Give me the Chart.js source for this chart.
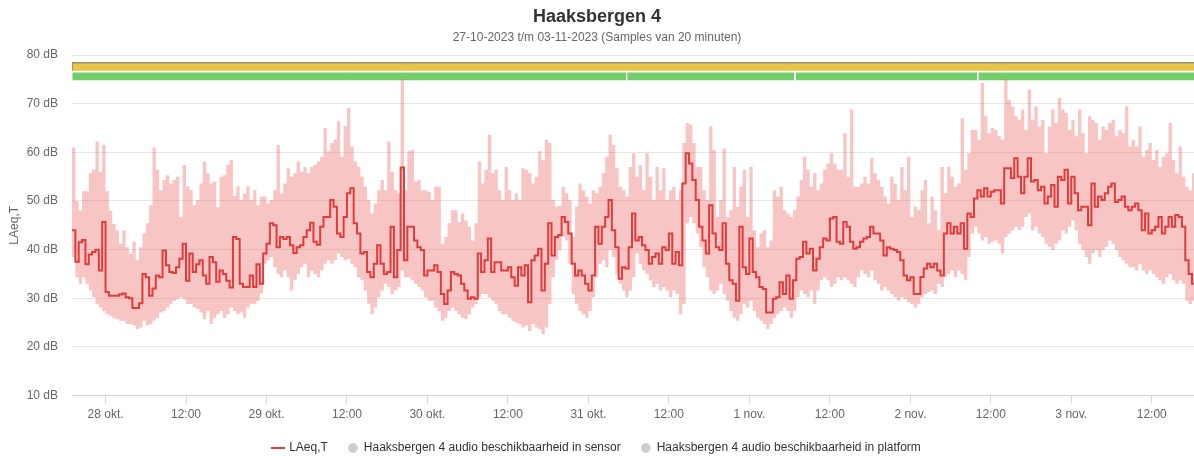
<!DOCTYPE html>
<html><head><meta charset="utf-8">
<script src="https://cdn.jsdelivr.net/npm/chart.js@4.4.0/dist/chart.umd.min.js"></script>
<style>html,body{margin:0;padding:0;background:#fff;}#wrap{width:1194px;height:456px;}</style>
</head><body><div id="wrap"><canvas id="c" width="1194" height="456"></canvas></div>
<script>
// Time axis in hours counted from 27-10-2023 00:00; samples every half hour starting 27 okt 19:00
const startHour = 19;
const stepHours = 0.5;
const axisMinHour = 19;
const axisMaxHour = 186.3;

const laeq = [
44,37.5,41.5,42,37,39,39.5,40,35.7,45.7,31.3,30.5,30.5,30.5,30.8,31,30.2,30,28,28,
29,35,34.3,30.5,32,34.7,34.3,39.8,36.8,35.4,35.2,36.4,38.1,41.2,33.6,39.2,35.4,37,37.8,34.7,
33,38.5,37.4,33.4,35.7,35,33.6,32.2,42.6,42.2,33,32.3,32.3,34.7,32.3,37,33,39.2,41.2,45.4,
45,40.5,42.6,42.2,42.6,40.9,39.3,40.5,40.9,42.6,44,45.5,41.6,41,44.7,46.7,46.7,50.2,48.8,43.3,
42.6,46.7,51.6,52.6,
45.4,43.3,39.2,39.5,35.4,34.3,37.1,40.9,37.1,35,35.4,44.7,34.3,39.9,56.9,37.8,44.7,44.7,41.9,40.5,
39.9,34.7,35.7,35.7,36.8,35.4,30.9,28.8,31.6,35.4,35,34.7,33,31.6,29.9,30.2,29.9,39.2,35.4,37.8,
42.3,35.4,37.4,37.4,35.7,35.7,36.4,34.3,32.6,36.4,34.7,36.8,29.2,37.8,38.8,40.2,31.6,37.1,45.4,38.8,
42.6,43,46.7,45.7,43.3,37.1,34.7,35.7,34.7,33,31.6,34.7,44.7,41.2,44.7,46.7,50.2,44,40.5,34,
36.4,36.1,40.5,47.4,
41.9,42.6,40.9,39.9,37.1,38.5,39.2,37.1,40.5,39.9,43.3,37.1,39.5,36.8,53.6,59.8,57.7,54.3,50.2,44.7,
41.9,39.2,49.1,43.3,40.5,39.9,45.4,37.1,33.7,33,29.5,44.7,36.4,35,42.3,35.4,34.3,32.3,31.9,27.1,
27.1,29.9,30.2,33.3,30.9,34.7,29.9,33.7,38.1,38.5,41.6,39.2,40.2,35.7,38.1,40.5,42.3,41.9,46.4,46.7,
41.6,41.2,45.7,44.7,41.6,40.2,40.5,41.6,42.3,42.6,44.7,43.3,43.3,41.9,38.8,40.5,40.2,39.9,39.5,37.8,
34.7,33.7,34.3,30.9,
30.9,34.4,36.1,37.1,36.4,37.1,35.7,34.7,43.3,45.4,43.3,44.7,43.3,45.4,40.2,47.4,46.7,50.5,52.2,50.9,
52.6,50.9,51.9,52.2,52.2,49.5,56.7,56.7,54.7,58.8,55,51.6,55,58.8,54,54.3,52.2,52.9,49.5,50.9,
53.3,48.8,55,54.3,56.4,49.5,55,51.6,48.1,48.8,48.8,45,53.6,48.8,50.9,50.2,51.6,52.9,53.6,49.8,
50.2,50.9,48.8,48.1,48.8,49.5,48.1,44,47.4,43.3,44,44.7,46.7,43.3,44.7,46.7,44.7,47.1,46.7,44.7,
37.8,35,33,32.6
];

const laeqMax = [
61,50,48,52,52,55.7,56.4,62.2,56,61.5,52,48,45.3,44,41.2,44,40.5,39.2,41.6,37.8,
40.5,43.3,45.4,49.1,61,56.4,52.2,54.3,55.3,53.6,54.3,55,46.7,57.4,53,52.2,49.1,50.2,53.6,58.1,
55.7,53.6,54,48.7,55,55.3,57.4,58.4,51,53,50.2,51.5,53,50.2,52.2,49.1,50.9,50.9,49.5,50.2,
52.2,61.5,51.5,53.6,56.7,55,55.7,58.1,56,57,55.7,57,57.4,58.1,59.1,65,60.2,61.9,62.6,66.4,
59.1,65.4,69.1,61.2,
58.1,57,55,52.9,50.2,47.4,49.5,52.2,54.3,52.2,62.2,56,52.2,51.6,75,52.2,60.2,60.5,54,54.3,
52.2,52.2,51.9,50.2,52.9,52.9,41.2,42.6,45.4,48.1,48.1,45.7,47.4,46,44.7,41.9,45.4,58.1,53.6,56.4,
63.6,55.7,56.4,52.2,50.2,57,52.2,50.2,51.6,50.2,56.7,56.4,55.7,53.6,55,60.2,58.4,62.6,61.9,50.2,
48.8,49,52.9,51.6,50.2,42.6,48.8,53.6,52.2,50.9,49.5,52.2,51.6,52.9,55.7,59.1,63.6,61.5,56.7,52.9,
52.2,50.9,57,59.8,
55,57.4,52.2,59.8,55,50.2,57,52.2,56.7,50.2,52.2,52.9,50.2,52.2,61.9,66,65.7,61.9,57,57,
52.2,50.2,65.3,60.5,46.7,50.2,60.8,46.7,48.1,57,48.8,52.9,56.4,46.7,57,44,40.5,43.3,44,40.5,
41.9,52.2,50.9,52.9,48.1,47.4,46.7,48.1,50.9,54.3,59.1,56.4,52.9,55.7,52.2,53.6,56.4,57.7,59.8,57.7,
56.4,56.4,63.9,55,68.8,52.9,52.9,53.6,55,53.6,58.8,55.7,54.3,52.9,50.9,49.5,55,53.6,50.2,57,
52.2,59.1,46.7,48.8,
48.1,52.2,54.3,45.4,50.9,48.1,44,57,51.6,57,55,52.9,53.6,67,56.4,59.8,64.6,64.6,62.6,74.3,
67.4,63.9,65,64.6,63.3,62.6,75,70.8,69.4,67.4,66.7,68.8,64.6,72.9,66.7,69.4,65.3,66.7,59.8,65.3,
68.8,66,71.2,68.8,68.1,64.6,66.7,63.3,68.8,63.9,59.8,67.4,66.7,66,62.6,65.3,64.6,66,66.7,63.3,
64.6,63.9,69.4,61.2,62.6,61.2,65.3,59.1,60.5,61.9,58.4,60.5,57,59.1,59.8,66,58.4,55.7,61.2,55,
52.9,52.2,55.7,57.7
];

const laeqMin = [
38.5,34.3,33,34.3,33,31.6,30.2,28.8,28.1,27.4,26.7,26.4,26,25.7,25.4,25.4,24.7,24.7,24.4,23.7,
24,25.4,24.4,24.7,25.4,26,27.1,27.4,28.1,28.8,29.5,29.8,30.2,29.8,28.8,28.8,28.1,27.8,27.1,25.7,
27.4,24.7,26,26.7,27.4,26,26.7,28.1,27.4,26.7,27.1,26,28.1,28.8,28.8,29.5,31,37.1,37.8,38.5,
36.4,35,34.3,35.7,34.3,31.6,33.7,35,36.4,37.1,34.3,35.7,35,34.3,35.7,37.1,37.8,37.1,37.8,39.2,
38.5,37.8,38.1,37.1,
36.4,34.3,33.7,31.6,28.8,26.7,28.1,30.2,31.6,33,32.3,30.9,31.6,32.3,35.7,34.3,34.3,33.7,33,32.3,
31.6,30.2,29.5,29.5,28.1,27.4,25.4,26,27.4,28.1,27.4,26.7,26,25.7,26.7,28.1,28.8,30.2,30.9,30.9,
30.2,29.5,28.8,27.4,26.7,26.7,26,25.4,25,24.7,24,24.4,23.3,24.7,24,23.7,22.6,24,28.8,34.3,
37.8,39.9,42.6,41.9,37.1,30.9,28.8,27.4,26.7,26,27.4,30.2,34.3,37.1,37.8,36.4,39.9,38.5,35,33,
31.6,30.2,31.6,34.3,
39.2,37.1,35.7,35,33.7,32.3,33,31.6,32.3,31.6,30.2,31.6,30.9,26.7,28.8,45.4,46.7,45.4,43.3,40.5,
36.4,34.3,31.6,30.9,31.6,33,30.9,29.5,27.4,26,25.4,26.7,28.8,28.1,29.5,27.4,26,25.4,24.7,23.7,
24.7,26,26.7,27.4,28.1,27.4,26,27.4,30.2,31.6,30.9,30.2,31.6,28.8,31.6,33.7,34.3,33.7,32.3,33,
34.3,33.7,34.3,33.7,33,32.3,34.3,35.7,35,34.3,35.7,33.7,33,31.6,32.3,31.6,30.9,30.2,29.5,30.2,
29.9,29.2,28.8,28.1,
28.8,30.2,30.9,31.3,31.6,30.9,33,32.3,34.4,35,35.7,34.4,35.7,35,33.7,38.5,43.3,44.7,43.3,41.9,
42.6,41.2,41.6,41.9,41.2,39.2,42.6,43.3,44,44.7,44,44.7,46.7,47.4,44,44.7,43.3,42.6,41.2,40.6,
39.9,41.2,41.9,44,43.3,44.7,46,44,41.2,39.9,38.5,37.1,39.2,39.9,38.5,39.9,40.6,41.9,41.2,39.9,
38.5,37.8,37.1,36.4,36.4,35.7,37.1,35.7,35,35.7,35,34.4,33.7,33,34.4,35,33.7,33,33.7,33,
29.5,28.8,29.5,28.8
];

// availability periods [start hour, end hour]
const sensorAvailability = [[19,101.7],[101.7,126.8],[126.8,154.05],[154.05,186.5]];
const platformAvailability = [[19,186.5]];

const tickHours = [24,36,48,60,72,84,96,108,120,132,144,156,168,180];
const tickLabels = ['28 okt.','12:00','29 okt.','12:00','30 okt.','12:00','31 okt.','12:00','1 nov.','12:00','2 nov.','12:00','3 nov.','12:00'];
const yTicks = [10,20,30,40,50,60,70,80];

const seriesNames = ['LAeq,T','Haaksbergen 4 audio beschikbaarheid in sensor','Haaksbergen 4 audio beschikbaarheid in platform'];

// ---- styling ----
const LINE_COLOR = '#e03c3c';
const BAND_COLOR = 'rgba(236,90,90,0.35)';
const GREEN = '#71ce6a';
const YELLOW = '#e8c448';
const SENSOR_BAND = [74.8, 76.5];
const PLATFORM_BAND = [76.75, 78.4];

Chart.defaults.font.family = '"Liberation Sans", Arial, Helvetica, sans-serif';
Chart.defaults.font.size = 12;
Chart.defaults.color = '#666';

const toPts = arr => arr.map((v, i) => ({x: startHour + i * stepHours, y: v}));
function barPolygon(segs, lo, hi) {
  const pts = [];
  segs.forEach((s, k) => {
    if (k > 0) pts.push({x: s[0], y: null});
    pts.push({x: s[0], y: lo}, {x: s[0], y: hi}, {x: s[1], y: hi}, {x: s[1], y: lo});
  });
  return pts;
}
function lineIcon(color) {
  const c = document.createElement('canvas'); c.width = 14; c.height = 2;
  const g = c.getContext('2d'); g.fillStyle = color; g.fillRect(0, 0, 14, 2); return c;
}
function dotIcon(color) {
  const c = document.createElement('canvas'); c.width = 10; c.height = 10;
  const g = c.getContext('2d'); g.fillStyle = color; g.beginPath(); g.arc(5, 5, 4.8, 0, Math.PI * 2); g.fill(); return c;
}

new Chart(document.getElementById('c'), {
  type: 'line',
  data: {
    datasets: [
      {label: seriesNames[0], data: toPts(laeq), borderColor: LINE_COLOR, borderWidth: 2, stepped: true, pointRadius: 0, fill: false},
      {label: 'max', data: toPts(laeqMax), borderWidth: 0, borderColor: 'rgba(0,0,0,0)', backgroundColor: BAND_COLOR, stepped: true, pointRadius: 0, fill: '+1'},
      {label: 'min', data: toPts(laeqMin), borderWidth: 0, borderColor: 'rgba(0,0,0,0)', stepped: true, pointRadius: 0, fill: false},
      {label: seriesNames[1], data: barPolygon(sensorAvailability, SENSOR_BAND[0], SENSOR_BAND[1]), borderColor: '#ffffff', borderWidth: 1, backgroundColor: GREEN, pointRadius: 0, fill: {value: SENSOR_BAND[0]}, spanGaps: false},
      {label: seriesNames[2], data: barPolygon(platformAvailability, PLATFORM_BAND[0], PLATFORM_BAND[1]), borderColor: '#6b6b6b', borderWidth: 1, backgroundColor: YELLOW, pointRadius: 0, fill: {value: PLATFORM_BAND[0]}}
    ]
  },
  options: {
    responsive: false,
    animation: false,
    devicePixelRatio: 1,
    layout: {padding: {left: 0, right: 0, top: 0, bottom: -8}},
    plugins: {
      title: {display: true, text: 'Haaksbergen 4', color: '#333', font: {size: 18, weight: 'bold'}, padding: {top: 6, bottom: 0}},
      subtitle: {display: true, text: '27-10-2023 t/m 03-11-2023 (Samples van 20 minuten)', color: '#666', font: {size: 12}, padding: {top: 3, bottom: 10}},
      tooltip: {enabled: false},
      legend: {
        position: 'bottom',
        labels: {
          usePointStyle: true, pointStyleWidth: 10, boxHeight: 12, padding: 20, color: '#333', font: {size: 12},
          generateLabels: () => [
            {text: seriesNames[0], pointStyle: lineIcon(LINE_COLOR), fillStyle: LINE_COLOR, strokeStyle: LINE_COLOR, lineWidth: 0, hidden: false, datasetIndex: 0, fontColor: '#333'},
            {text: seriesNames[1], pointStyle: dotIcon('#cccccc'), fillStyle: '#ccc', strokeStyle: '#ccc', lineWidth: 0, hidden: false, datasetIndex: 3, fontColor: '#333'},
            {text: seriesNames[2], pointStyle: dotIcon('#cccccc'), fillStyle: '#ccc', strokeStyle: '#ccc', lineWidth: 0, hidden: false, datasetIndex: 4, fontColor: '#333'}
          ]
        }
      }
    },
    scales: {
      x: {
        type: 'linear', min: axisMinHour, max: axisMaxHour,
        grid: {drawOnChartArea: false, drawTicks: true, tickLength: 8, color: '#ccd6eb'},
        border: {color: '#ccd6eb'},
        afterBuildTicks: axis => { axis.ticks = tickHours.map(v => ({value: v})); },
        afterFit: axis => { axis.height = 26.4; },
        ticks: {autoSkip: false, maxRotation: 0, padding: 4, color: '#666',
          callback: v => { const i = tickHours.indexOf(v); return i >= 0 ? tickLabels[i] : ''; }}
      },
      y: {
        type: 'linear', min: 10, max: 80,
        afterBuildTicks: axis => { axis.ticks = yTicks.map(v => ({value: v})); },
        afterFit: axis => { axis.width = 72; },
        grid: {color: '#e6e6e6', drawTicks: false},
        border: {display: false},
        ticks: {padding: 14, color: '#666', callback: v => v + ' dB'},
        title: {display: true, text: 'LAeq,T', color: '#666', font: {size: 12}, padding: {top: 7, bottom: 5}}
      }
    }
  }
});
</script>
</body></html>
